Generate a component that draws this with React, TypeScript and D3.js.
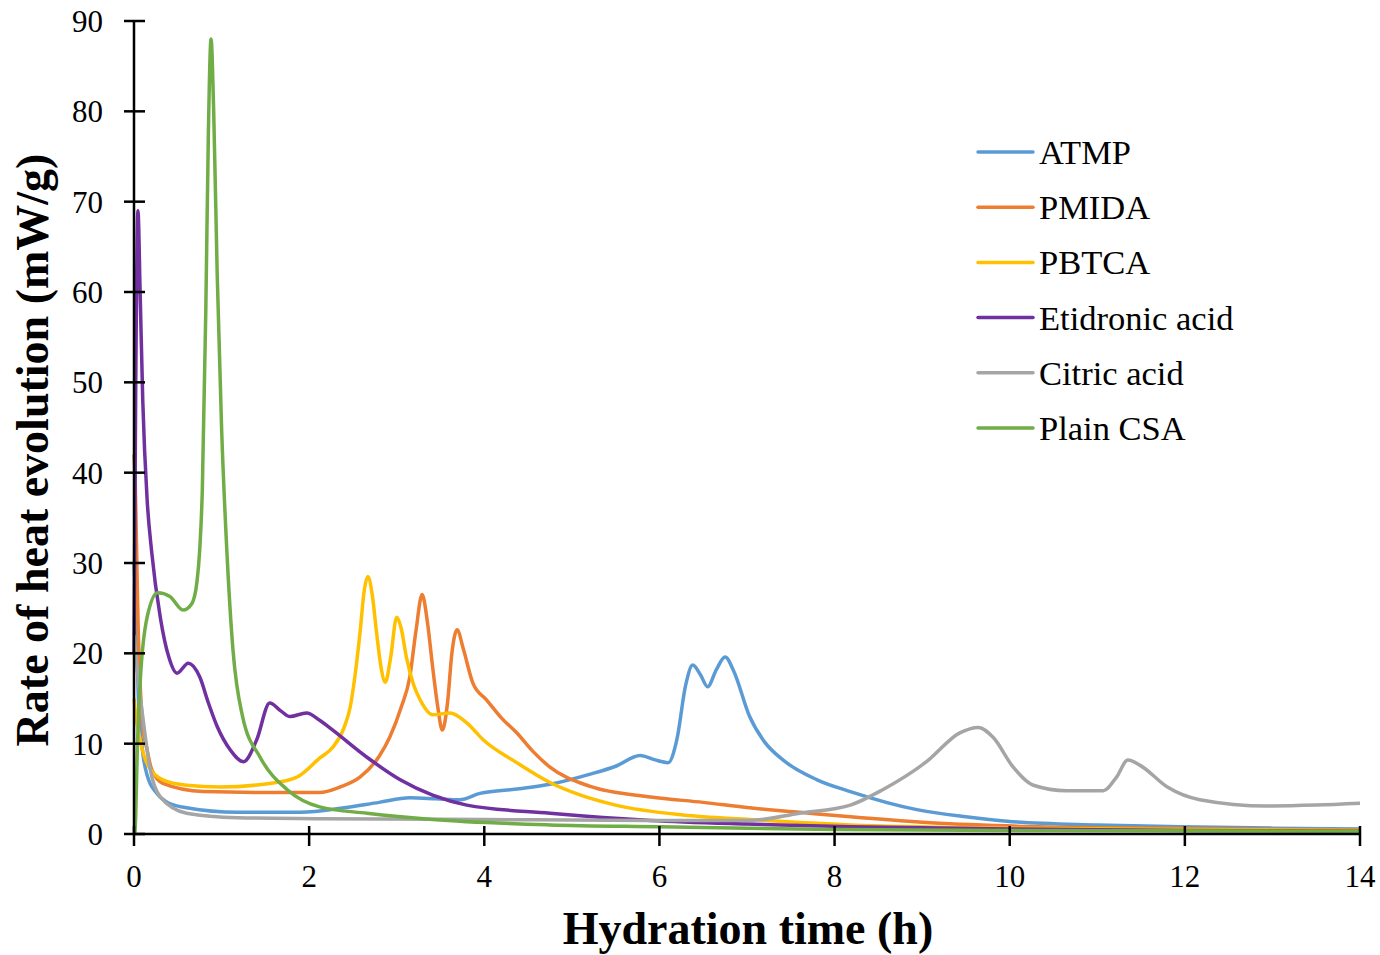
import React, { useEffect, useRef } from 'react';
import * as d3 from 'd3';

type Pt = [number, number];

// hydration time (h), rate of heat evolution (mW/g)
const atmp: Pt[] = [
  [0, 30], [0.01, 28], [0.05, 15], [0.1, 9], [0.15, 6.5], [0.26, 4.5], [0.4, 3.4], [0.6, 2.9],
  [1.18, 2.4], [1.9, 2.4], [2.4, 2.9], [2.8, 3.5], [3.15, 4.0], [3.45, 3.9], [3.72, 3.8],
  [3.95, 4.5], [4.4, 5.0], [4.75, 5.5], [5.2, 6.6], [5.5, 7.5], [5.78, 8.7], [5.95, 8.2],
  [6.1, 7.9], [6.2, 10.5], [6.3, 16.5], [6.38, 18.7], [6.47, 17.6], [6.55, 16.3], [6.65, 18.2],
  [6.75, 19.6], [6.85, 18.0], [7.03, 13.0], [7.2, 10.2], [7.41, 8.2], [7.8, 6.0], [8.18, 4.7],
  [8.94, 2.7], [9.5, 1.9], [9.97, 1.4], [11, 1.0], [11.94, 0.8], [13, 0.65], [14, 0.55]
];

const pmida: Pt[] = [
  [0, 42], [0.01, 40], [0.05, 22], [0.1, 12], [0.15, 9.3], [0.2, 7.2], [0.33, 5.6], [0.79, 4.7],
  [1.5, 4.6], [2.12, 4.6], [2.35, 5.2], [2.58, 6.3], [2.8, 8.6], [2.92, 10.7], [3.05, 14.0],
  [3.15, 17.4], [3.22, 22.5], [3.29, 26.5], [3.35, 23.5], [3.41, 18.5], [3.47, 14.0], [3.52, 11.5],
  [3.58, 14.5], [3.63, 20.0], [3.69, 22.6], [3.76, 20.5], [3.87, 16.7], [4.03, 14.8],
  [4.2, 12.8], [4.37, 11.2], [4.55, 9.2], [4.75, 7.4], [5.2, 5.3], [5.9, 4.1], [6.5, 3.5],
  [7.03, 2.9], [7.6, 2.4], [8.18, 1.9], [9, 1.3], [9.97, 0.9], [11, 0.7], [12, 0.6], [14, 0.45]
];

const pbtca: Pt[] = [
  [0, 15], [0.01, 14], [0.07, 10.4], [0.15, 7.8], [0.33, 6.0], [0.6, 5.4], [0.98, 5.2],
  [1.55, 5.6], [1.86, 6.3], [2.12, 8.4], [2.27, 9.6], [2.4, 11.8], [2.47, 14.1], [2.53, 18.0],
  [2.58, 22.2], [2.63, 27.0], [2.67, 28.5], [2.72, 26.5], [2.77, 22.3], [2.82, 18.5],
  [2.87, 16.8], [2.93, 19.5], [3.0, 24.0], [3.05, 22.8], [3.11, 19.6], [3.19, 16.6],
  [3.27, 14.8], [3.41, 13.2], [3.61, 13.4], [3.8, 12.3], [3.99, 10.4], [4.37, 7.9],
  [4.75, 5.7], [5.1, 4.3], [5.5, 3.2], [6.27, 2.1], [7.03, 1.6], [8.18, 1.0], [10, 0.65],
  [12, 0.5], [14, 0.4]
];

const etidronic: Pt[] = [
  [0, 20], [0.02, 50], [0.045, 69], [0.07, 60], [0.1, 48], [0.15, 37], [0.2, 31.4], [0.3, 24],
  [0.4, 19.5], [0.49, 17.8], [0.62, 18.9], [0.75, 17.4], [0.85, 14.5], [0.95, 11.9],
  [1.1, 9.3], [1.25, 8.0], [1.4, 10.4], [1.55, 14.5], [1.68, 13.6], [1.78, 13.0], [1.97, 13.4],
  [2.12, 12.6], [2.27, 11.5], [2.66, 8.5], [3.04, 6.0], [3.41, 4.3], [3.8, 3.2], [4.75, 2.3],
  [5.9, 1.5], [7, 1.1], [8.18, 0.8], [10, 0.55], [12, 0.4], [14, 0.3]
];

const citric: Pt[] = [
  [0, 22], [0.01, 21], [0.05, 17], [0.1, 13], [0.18, 7.4], [0.3, 4.1], [0.6, 2.3], [1.18, 1.8],
  [2.12, 1.7], [4, 1.6], [5.9, 1.5], [7.03, 1.5], [7.6, 2.3], [8.18, 3.2], [8.55, 4.9],
  [9.05, 8.0], [9.43, 11.2], [9.64, 11.8], [9.81, 10.7], [10.04, 7.4], [10.27, 5.4],
  [10.65, 4.8], [11.07, 4.8], [11.22, 6.3], [11.35, 8.2], [11.49, 7.6], [11.8, 5.2],
  [12.17, 3.8], [12.94, 3.1], [13.5, 3.2], [14, 3.4]
];

const plainCSA: Pt[] = [
  [0, 0], [0.01, 0.1], [0.04, 10], [0.07, 16.7], [0.15, 24], [0.27, 26.7], [0.41, 26.3],
  [0.56, 24.8], [0.66, 25.5], [0.72, 28], [0.75, 31.4], [0.78, 38], [0.82, 58], [0.85, 78],
  [0.88, 88], [0.91, 80], [0.95, 62], [1.0, 45], [1.06, 31.4], [1.13, 20.4], [1.24, 13],
  [1.44, 8.5], [1.75, 4.9], [2.12, 3.0], [2.66, 2.3], [3.41, 1.6], [4.75, 1.0], [6, 0.8],
  [8, 0.5], [10, 0.4], [14, 0.3]
];

const seriesNames = ['ATMP', 'PMIDA', 'PBTCA', 'Etidronic acid', 'Citric acid', 'Plain CSA'];
const seriesData = [atmp, pmida, pbtca, etidronic, citric, plainCSA];
const seriesColors = ['#5B9BD5', '#ED7D31', '#FFC000', '#7030A0', '#A5A5A5', '#70AD47'];

const xTicks = [0, 2, 4, 6, 8, 10, 12, 14];
const yTicks = [0, 10, 20, 30, 40, 50, 60, 70, 80, 90];

const App: React.FC = () => {
  const svgRef = useRef<SVGSVGElement>(null);

  useEffect(() => {
    if (!svgRef.current) return;
    const svg = d3.select(svgRef.current);
    svg.selectAll('*').remove();

    const font = '"Liberation Serif", "Times New Roman", serif';
    const x = d3.scaleLinear().domain([0, 14]).range([134, 1360]);
    const y = d3.scaleLinear().domain([0, 90]).range([834, 21]);

    // series lines
    const line = d3.line<Pt>()
      .x(d => x(d[0]))
      .y(d => y(d[1]))
      .curve(d3.curveMonotoneX);

    seriesData.forEach((data, i) => {
      svg.append('path')
        .datum(data)
        .attr('d', line)
        .style('fill', 'none')
        .style('stroke', seriesColors[i])
        .style('stroke-width', 3.5)
        .style('stroke-linejoin', 'round');
    });

    // axes
    svg.append('line')
      .attr('x1', x(0)).attr('x2', x(0))
      .attr('y1', y(90)).attr('y2', y(0))
      .style('stroke', '#000').style('stroke-width', 2.5);
    svg.append('line')
      .attr('x1', x(0)).attr('x2', x(14))
      .attr('y1', y(0)).attr('y2', y(0))
      .style('stroke', '#000').style('stroke-width', 2.5);

    yTicks.forEach(t => {
      svg.append('line')
        .attr('x1', x(0) - 10).attr('x2', x(0) + 11)
        .attr('y1', y(t)).attr('y2', y(t))
        .style('stroke', '#000').style('stroke-width', 2.5);
      svg.append('text')
        .attr('x', 103)
        .attr('y', y(t))
        .attr('dy', '0.35em')
        .style('text-anchor', 'end')
        .style('font-family', font)
        .style('font-size', '31px')
        .text(t);
    });

    xTicks.forEach(t => {
      svg.append('line')
        .attr('x1', x(t)).attr('x2', x(t))
        .attr('y1', y(0) - 8).attr('y2', y(0) + 12)
        .style('stroke', '#000').style('stroke-width', 2.5);
      svg.append('text')
        .attr('x', x(t))
        .attr('y', 887)
        .style('text-anchor', 'middle')
        .style('font-family', font)
        .style('font-size', '31px')
        .text(t);
    });

    // axis titles
    svg.append('text')
      .attr('x', 748)
      .attr('y', 944)
      .style('text-anchor', 'middle')
      .style('font-family', font)
      .style('font-size', '46px')
      .style('font-weight', 'bold')
      .text('Hydration time (h)');

    svg.append('text')
      .attr('transform', 'translate(48,450) rotate(-90)')
      .style('text-anchor', 'middle')
      .style('font-family', font)
      .style('font-size', '46px')
      .style('font-weight', 'bold')
      .text('Rate of heat evolution (mW/g)');

    // legend
    seriesNames.forEach((name, i) => {
      const ly = 152 + i * 55.2;
      svg.append('line')
        .attr('x1', 978).attr('x2', 1033)
        .attr('y1', ly).attr('y2', ly)
        .style('stroke', seriesColors[i])
        .style('stroke-width', 3.5)
        .style('stroke-linecap', 'round');
      svg.append('text')
        .attr('x', 1039)
        .attr('y', ly)
        .attr('dy', '0.35em')
        .style('font-family', font)
        .style('font-size', '34.5px')
        .text(name);
    });
  }, []);

  return (
    <svg
      ref={svgRef}
      width={1380}
      height={955}
      style={{ position: 'absolute', left: 0, top: 0, background: '#fff' }}
    />
  );
};

export default App;
